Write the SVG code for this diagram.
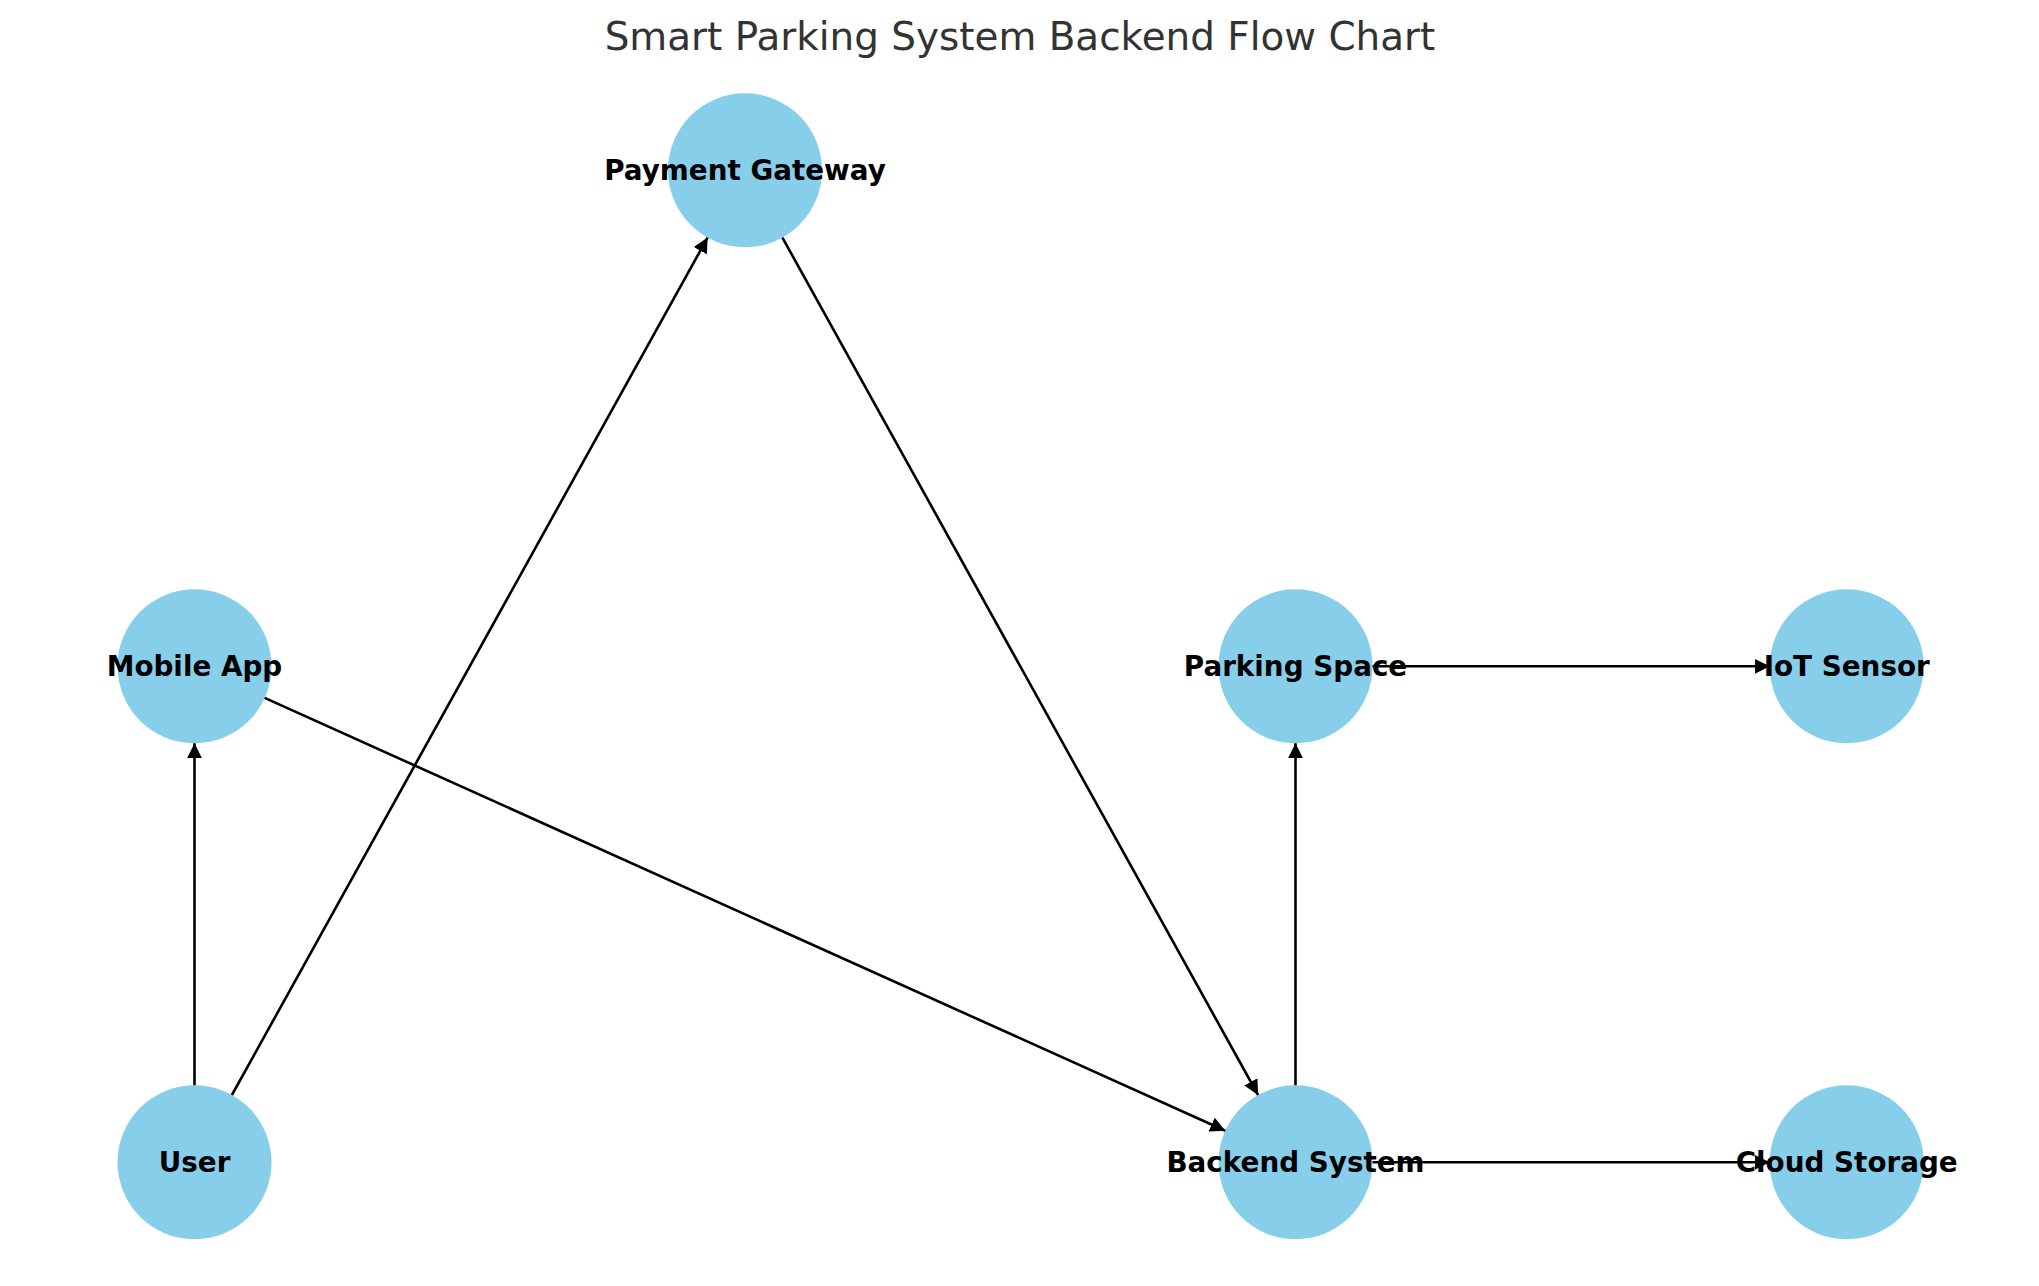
<svg xmlns="http://www.w3.org/2000/svg" width="2039" height="1286" viewBox="0 0 2039 1286">
<style>
.node circle{fill:#87CEEB;}
.node text{font-family:"DejaVu Sans",sans-serif;font-weight:bold;font-size:27.8px;fill:#000;text-anchor:middle;}
.edges line{stroke:#000;stroke-width:2.6;marker-end:url(#arrow);}
.title{font-family:"DejaVu Sans",sans-serif;font-size:38.9px;fill:#333;text-anchor:middle;}
</style>
<defs>
<marker id="arrow" markerUnits="userSpaceOnUse" markerWidth="17" markerHeight="16" refX="15" refY="7.5" orient="auto" viewBox="0 0 17 15">
<path d="M0,0 L15,7.5 L0,15 z" fill="#000"/>
</marker>
</defs>
<rect width="2039" height="1286" fill="#fff"/>
<text class="title" x="1020" y="50">Smart Parking System Backend Flow Chart</text>
<g id="node-user" class="node"><circle cx="194.5" cy="1162.3" r="77"/></g>
<g id="node-mobile-app" class="node"><circle cx="194.5" cy="666.3" r="77"/></g>
<g id="node-payment-gateway" class="node"><circle cx="745" cy="170.3" r="77"/></g>
<g id="node-parking-space" class="node"><circle cx="1295.5" cy="666.3" r="77"/></g>
<g id="node-iot-sensor" class="node"><circle cx="1846.7" cy="666.3" r="77"/></g>
<g id="node-backend-system" class="node"><circle cx="1295.5" cy="1162.3" r="77"/></g>
<g id="node-cloud-storage" class="node"><circle cx="1846.7" cy="1162.3" r="77"/></g>
<g id="connectors" class="edges">
<line x1="194.5" y1="1085.3" x2="194.5" y2="743.3"/>
<line x1="231.9" y1="1095.0" x2="707.6" y2="237.6"/>
<line x1="264.7" y1="697.9" x2="1225.3" y2="1130.7"/>
<line x1="782.4" y1="237.6" x2="1258.1" y2="1095.0"/>
<line x1="1295.5" y1="1085.3" x2="1295.5" y2="743.3"/>
<line x1="1372.5" y1="1162.3" x2="1769.7" y2="1162.3"/>
<line x1="1372.5" y1="666.3" x2="1769.7" y2="666.3"/>
</g>
<g id="labels" class="node">
<text x="194.5" y="1172.3">User</text>
<text x="194.5" y="676.3">Mobile App</text>
<text x="745" y="180.3">Payment Gateway</text>
<text x="1295.5" y="676.3">Parking Space</text>
<text x="1846.7" y="676.3">IoT Sensor</text>
<text x="1295.5" y="1172.3">Backend System</text>
<text x="1846.7" y="1172.3">Cloud Storage</text>
</g>
</svg>
